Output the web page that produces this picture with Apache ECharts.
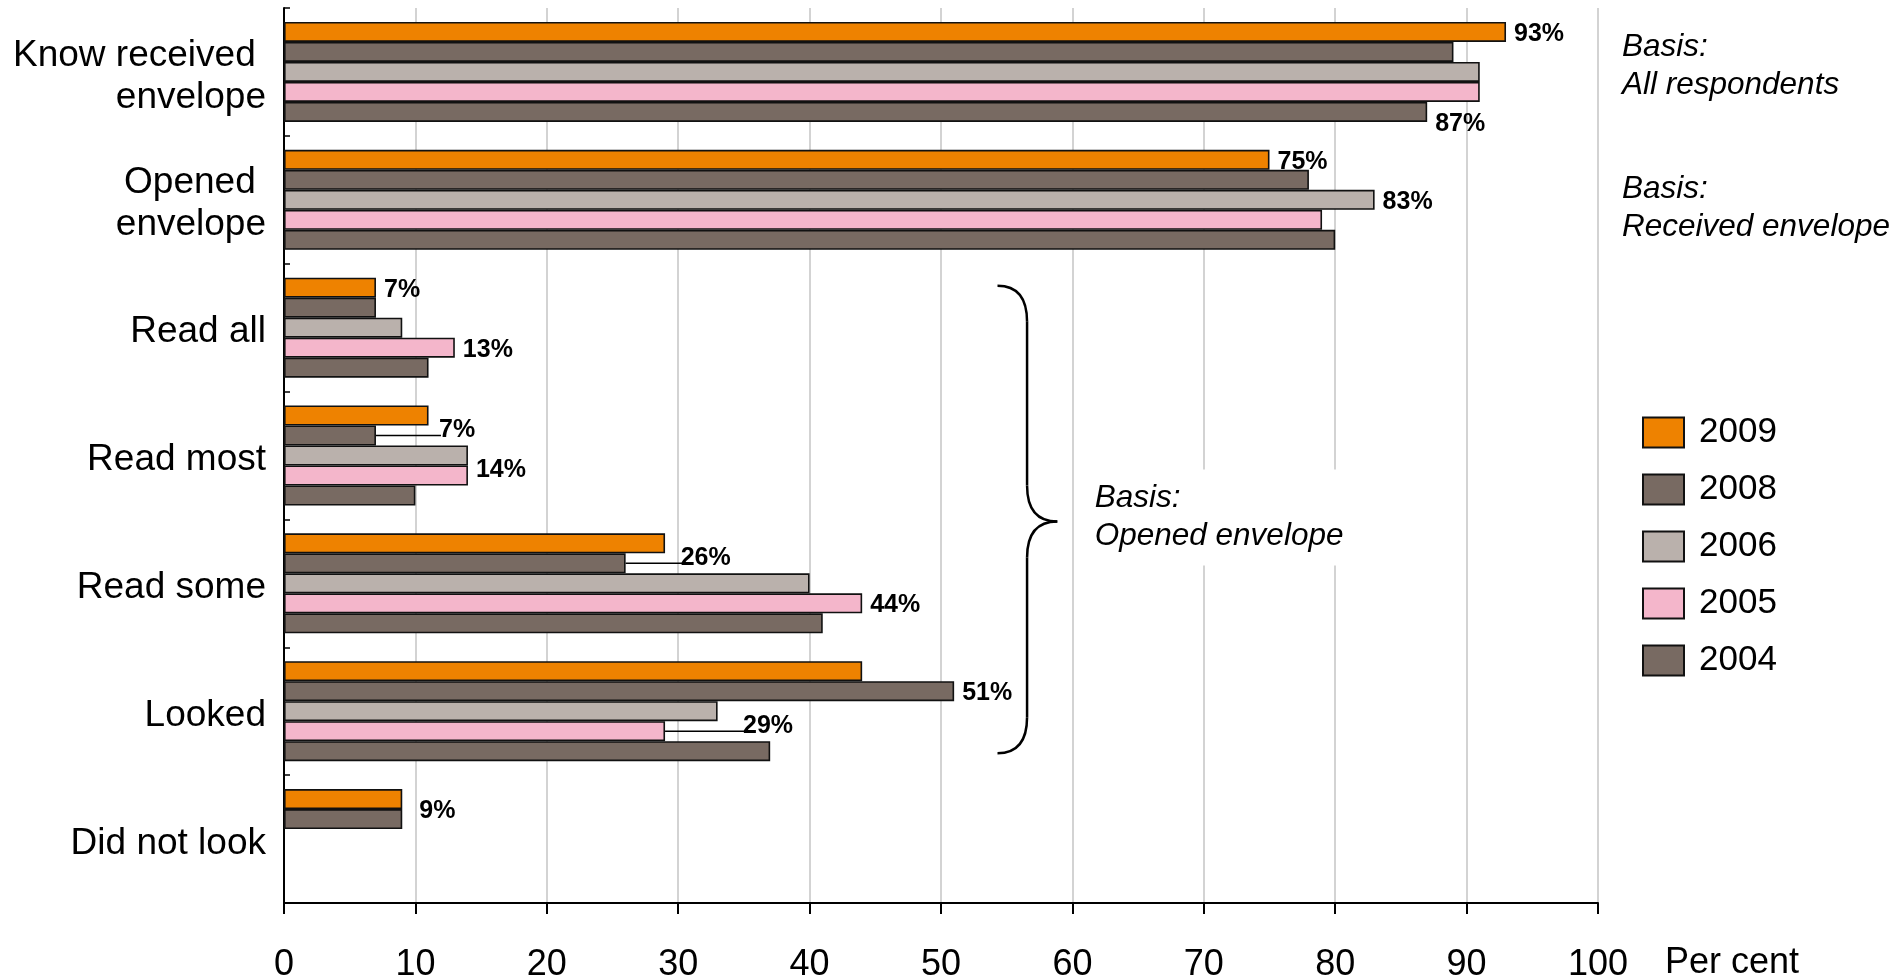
<!DOCTYPE html>
<html>
<head>
<meta charset="utf-8">
<style>
  html, body { margin: 0; padding: 0; background: #ffffff; }
  #chart { width: 1901px; height: 977px; }
</style>
<script src="https://cdn.jsdelivr.net/npm/echarts@6/dist/echarts.min.js"></script>
</head>
<body>
<div id="chart"></div>
<script>
// Survey steps, top to bottom
const categories = ['Know received envelope', 'Opened envelope', 'Read all', 'Read most', 'Read some', 'Looked', 'Did not look'];
const years = ['2009', '2008', '2006', '2005', '2004'];

// Share of respondents (per cent) for each step
const values2009 = [93, 75, 7, 11, 29, 44, 9];
const values2008 = [89, 78, 7, 7, 26, 51, 9];
const values2006 = [91, 83, 9, 14, 40, 33, null];
const values2005 = [91, 79, 13, 14, 44, 29, null];
const values2004 = [87, 80, 11, 10, 41, 37, null];

// Value axis range
const axisMin = 0;
const axisMax = 100;
const axisStep = 10;

const FONT = "'Liberation Sans', Arial, Helvetica, sans-serif";
const BAR_W = 20;

const colors = {
  '2009': '#EE8200',
  '2008': '#786A62',
  '2006': '#BAB1AC',
  '2005': '#F4B6CB',
  '2004': '#786A62'
};

// Bars that carry a value label (by category index) and how each label is nudged;
// "leader" labels are joined to their bar by a short horizontal line
const valueLabels = {
  '2009': { 0: {}, 1: {}, 2: {}, 6: { dx: 9, dy: 10 } },
  '2008': { 3: { dx: 55, dy: -7, leader: true }, 4: { dx: 47, dy: -7, leader: true }, 5: {} },
  '2006': { 1: {} },
  '2005': { 2: {}, 3: { dy: -7 }, 4: {}, 5: { dx: 70, dy: -7, leader: true } },
  '2004': { 0: { dy: 10 } }
};
const LABEL_DISTANCE = 8;
const LABEL_BASE_DY = 2;

const seriesValues = {
  '2009': values2009,
  '2008': values2008,
  '2006': values2006,
  '2005': values2005,
  '2004': values2004
};

function buildSeries(year) {
  const rules = valueLabels[year] || {};
  return {
    name: year,
    type: 'bar',
    barWidth: BAR_W,
    barGap: '0%',
    itemStyle: { color: colors[year], borderColor: '#111111', borderWidth: 1.6 },
    labelLayout: function (p) {
      const r = rules[p.dataIndex];
      return r ? { dx: r.dx || 0, dy: (r.dy || 0) + LABEL_BASE_DY } : {};
    },
    data: seriesValues[year].map(function (v, i) {
      const r = rules[i];
      if (v == null || !r) return v;
      return {
        value: v,
        label: {
          show: true,
          position: 'right',
          distance: LABEL_DISTANCE,
          formatter: '{c}%',
          fontFamily: FONT,
          fontWeight: 'bold',
          fontSize: 25,
          color: '#000000'
        }
      };
    })
  };
}

// Leader lines: [value, category index, slot of the year in the group, line length]
const leaderData = [];
years.forEach(function (year, slot) {
  const rules = valueLabels[year] || {};
  Object.keys(rules).forEach(function (k) {
    const r = rules[k];
    if (r.leader) {
      const ci = Number(k);
      leaderData.push([seriesValues[year][ci], ci, slot, LABEL_DISTANCE + (r.dx || 0) + 2]);
    }
  });
});

const leaderSeries = {
  type: 'custom',
  name: 'leaders',
  silent: true,
  z: 3,
  renderItem: function (params, api) {
    const p = api.coord([api.value(0), api.value(1)]);
    const y = p[1] + (api.value(2) - (years.length - 1) / 2) * BAR_W;
    return {
      type: 'line',
      shape: { x1: p[0], y1: y, x2: p[0] + api.value(3), y2: y },
      style: { stroke: '#000000', lineWidth: 1.5 }
    };
  },
  data: leaderData
};

// Category labels wrap before "envelope"; a thin spacer line on top sets them slightly low
function categoryLabel(v) {
  const lines = v.replace(' envelope', ' \nenvelope').split('\n');
  return '{g| }\n' + lines.map(function (l) { return '{t|' + l + '}'; }).join('\n');
}

const chart = echarts.init(document.getElementById('chart'), null, { renderer: 'canvas' });

chart.setOption({
  animation: false,
  backgroundColor: '#ffffff',
  grid: { left: 284, right: 303, top: 8, bottom: 74, outerBoundsMode: 'none', containLabel: false },
  legend: {
    orient: 'vertical',
    left: 1637,
    top: 410,
    itemWidth: 41,
    itemHeight: 30,
    itemGap: 22,
    icon: 'rect',
    selectedMode: false,
    textStyle: { fontFamily: FONT, fontSize: 35, color: '#000000', lineHeight: 30, padding: [0, 0, 0, 10] },
    data: years
  },
  xAxis: {
    type: 'value',
    min: axisMin,
    max: axisMax,
    interval: axisStep,
    axisLine: { show: true, lineStyle: { color: '#000000', width: 2 } },
    axisTick: { show: true, length: 11, lineStyle: { color: '#000000', width: 2 } },
    axisLabel: { fontFamily: FONT, fontSize: 36, color: '#000000', margin: 44 },
    splitLine: { show: true, lineStyle: { color: '#C4C4C4', width: 1.5 } }
  },
  yAxis: {
    type: 'category',
    inverse: true,
    data: categories,
    axisLine: { show: true, lineStyle: { color: '#000000', width: 2 } },
    axisTick: { show: true, inside: true, length: 6, lineStyle: { color: '#000000', width: 1.5 } },
    axisLabel: {
      color: '#000000',
      margin: 18,
      formatter: categoryLabel,
      rich: {
        g: { fontSize: 1, lineHeight: 9, height: 9 },
        t: { fontFamily: FONT, fontSize: 37, lineHeight: 42, color: '#000000', align: 'right' }
      }
    },
    splitLine: { show: false }
  },
  series: years.map(buildSeries).concat([leaderSeries])
});

// Annotations tied to the axes: axis unit, notes on the basis of each block and the brace
function px(v) { return chart.convertToPixel({ xAxisIndex: 0 }, v); }
function py(c) { return chart.convertToPixel({ yAxisIndex: 0 }, c); }

const band = py(categories[1]) - py(categories[0]);
const plotBottom = py(categories[categories.length - 1]) + band / 2;

const braceTop = py('Read all') - 42;
const braceBottom = py('Looked') + 42;
const braceMid = (braceTop + braceBottom) / 2 + 2;
const xL = px(54.3), xM = px(56.55), xT = px(58.85);
const r = 36;
const braceStyle = { fill: null, stroke: '#000000', lineWidth: 2.5 };

function curve(x1, y1, cx, cy, x2, y2) {
  return { type: 'bezierCurve', shape: { x1: x1, y1: y1, cpx1: cx, cpy1: cy, x2: x2, y2: y2 }, style: braceStyle, z: 10 };
}
function straight(x1, y1, x2, y2) {
  return { type: 'line', shape: { x1: x1, y1: y1, x2: x2, y2: y2 }, style: braceStyle, z: 10 };
}

const noteFont = 'italic 31.5px ' + FONT;
const noteX = px(axisMax) + 24;

chart.setOption({
  graphic: [
    curve(xL, braceTop, xM, braceTop, xM, braceTop + r),
    straight(xM, braceTop + r, xM, braceMid - r),
    curve(xM, braceMid - r, xM, braceMid, xT, braceMid),
    curve(xT, braceMid, xM, braceMid, xM, braceMid + r),
    straight(xM, braceMid + r, xM, braceBottom - r),
    curve(xM, braceBottom - r, xM, braceBottom, xL, braceBottom),
    {
      type: 'text',
      x: px(axisMax) + 67,
      y: plotBottom + 60,
      style: { text: 'Per cent', font: '36px ' + FONT, fill: '#000000', align: 'left', verticalAlign: 'middle' },
      z: 10
    },
    {
      type: 'text',
      x: noteX,
      y: py(categories[0]) - 6,
      style: { text: 'Basis:\nAll respondents', font: noteFont, fill: '#000000', lineHeight: 38, align: 'left', verticalAlign: 'middle' },
      z: 10
    },
    {
      type: 'text',
      x: noteX,
      y: py(categories[1]) + 8,
      style: { text: 'Basis:\nReceived envelope', font: noteFont, fill: '#000000', lineHeight: 38, align: 'left', verticalAlign: 'middle' },
      z: 10
    },
    {
      type: 'text',
      x: px(61.7) - 10,
      y: (py('Read most') + py('Read some')) / 2 - 2,
      style: {
        text: 'Basis:\nOpened envelope', font: noteFont, fill: '#000000', lineHeight: 38,
        align: 'left', verticalAlign: 'middle', backgroundColor: '#ffffff', padding: [10, 10, 10, 10]
      },
      z: 10
    }
  ]
});
</script>
</body>
</html>
